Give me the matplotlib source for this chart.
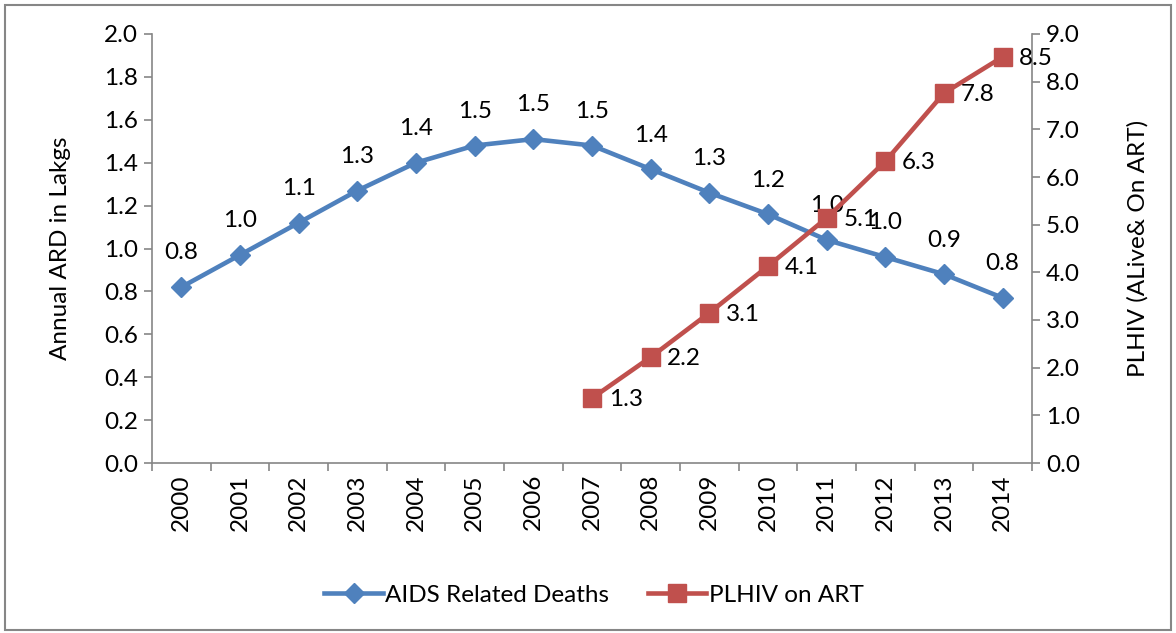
import numpy as np
import matplotlib
matplotlib.use('Agg')
import matplotlib.pyplot as plt
from matplotlib.patches import Rectangle

# Data ------------------------------------------
years = [str(y) for y in range(2000, 2015)]
deaths = [0.82, 0.97, 1.12, 1.27, 1.40, 1.48, 1.51, 1.48, 1.37, 1.26, 1.16, 1.04, 0.96, 0.88, 0.77]
deaths_labels = ['0.8', '1.0', '1.1', '1.3', '1.4', '1.5', '1.5', '1.5', '1.4', '1.3', '1.2', '1.0', '1.0', '0.9', '0.8']
art_years = years[7:]
art = [1.36, 2.22, 3.15, 4.13, 5.14, 6.33, 7.76, 8.52]
art_labels = ['1.3', '2.2', '3.1', '4.1', '5.1', '6.3', '7.8', '8.5']
# -----------------------------------------------
plt.rcParams['font.family'] = ['Lato', 'DejaVu Sans']
BLUE = '#4F81BD'
RED = '#C0504D'
GREY = '#868686'
FS = 17.5

fig = plt.figure(figsize=(11.76, 6.33), dpi=100)
fig.patches.append(Rectangle((0.004, 0.004), 0.992, 0.988, transform=fig.transFigure,
                             fill=False, edgecolor=GREY, linewidth=1.5))
ax = fig.add_axes([152/1176, 1-463/633, (1032-152)/1176, (463-34)/633])
ax2 = ax.twinx()

x = np.arange(len(years))
xa = np.arange(7, 7 + len(art))
l1, = ax.plot(x, deaths, color=BLUE, lw=3.3, marker='D', markersize=10, label='AIDS Related Deaths', zorder=3)
l2, = ax2.plot(xa, art, color=RED, lw=3.3, marker='s', markersize=13, label='PLHIV on ART', zorder=3)

for xi, v, t in zip(x, deaths, deaths_labels):
    ax.annotate(t, (xi, v), xytext=(0, 17), textcoords='offset points', ha='center', va='bottom', fontsize=FS)
for xi, v, t in zip(xa, art, art_labels):
    ax2.annotate(t, (xi, v), xytext=(12, -1), textcoords='offset points', ha='left', va='center', fontsize=FS)

ax.set_xlim(-0.5, len(years) - 0.5)
ax.set_ylim(0, 2.0)
ax2.set_ylim(0, 9.0)
ax.set_yticks(np.arange(0, 2.01, 0.2))
ax.set_yticklabels(['%.1f' % v for v in np.arange(0, 2.01, 0.2)])
ax2.set_yticks(np.arange(0, 9.01, 1.0))
ax2.set_yticklabels(['%.1f' % v for v in np.arange(0, 9.01, 1.0)])
ax.set_xticks(x)
ax.set_xticklabels(years, rotation=90)
ax.set_xticks(np.arange(-0.5, len(years)), minor=True)
ax.tick_params(axis='x', which='major', length=0, labelsize=FS, pad=8)
ax.tick_params(axis='x', which='minor', length=6, color=GREY, width=1.2)
ax.tick_params(axis='y', labelsize=FS, length=6, color=GREY, width=1.2, pad=4)
ax2.tick_params(axis='y', labelsize=FS, length=6, color=GREY, width=1.2, pad=4)

for a in (ax, ax2):
    a.spines['top'].set_visible(False)
    for s in ('left', 'right', 'bottom'):
        a.spines[s].set_color(GREY)
        a.spines[s].set_linewidth(1.2)
ax.spines['right'].set_visible(False)
ax2.spines['left'].set_visible(False)
ax2.spines['bottom'].set_visible(False)

ax.set_ylabel('Annual ARD in Lakgs', fontsize=FS, labelpad=24)
ax2.set_ylabel('PLHIV (ALive& On ART)', fontsize=FS, labelpad=34)

fig.legend(handles=[l1, l2], loc='center', bbox_to_anchor=(594/1176, 1-595/633), ncol=2,
           frameon=False, fontsize=FS, handlelength=2.4, columnspacing=1.6, handletextpad=0.1)

fig.savefig('out.png', dpi=100)
